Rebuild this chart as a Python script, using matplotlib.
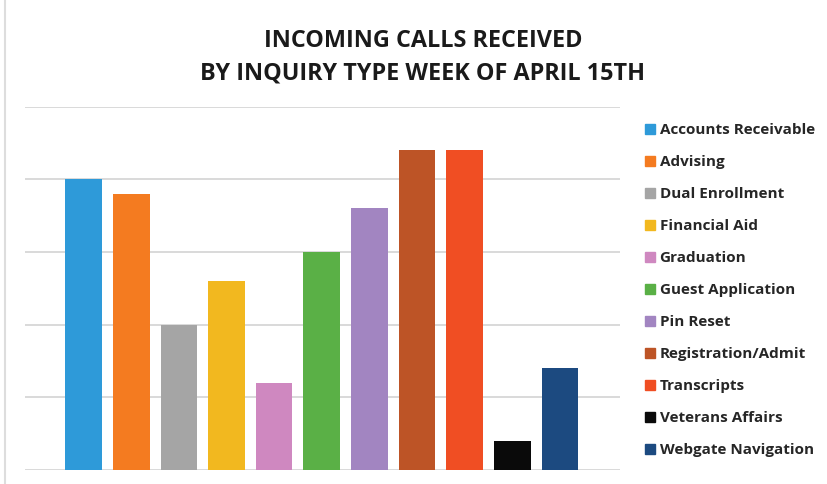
import matplotlib
matplotlib.use("Agg")
import matplotlib.pyplot as plt
from matplotlib.lines import Line2D

categories = ["Accounts Receivable", "Advising", "Dual Enrollment", "Financial Aid",
              "Graduation", "Guest Application", "Pin Reset", "Registration/Admit",
              "Transcripts", "Veterans Affairs", "Webgate Navigation"]
values = [40, 38, 20, 26, 12, 30, 36, 44, 44, 4, 14]
colors = ["#2e9ad9", "#f47b20", "#a5a5a5", "#f2b81f", "#cf88c0", "#5ab046",
          "#a285c1", "#bd5426", "#f04e23", "#0a0a0a", "#1c4a80"]
title = "INCOMING CALLS RECEIVED\nBY INQUIRY TYPE WEEK OF APRIL 15TH"

plt.rcParams['font.family'] = ['Open Sans', 'DejaVu Sans']

W, H = 828, 484
fig = plt.figure(figsize=(W / 100, H / 100), dpi=100)
ax = fig.add_axes([25 / W, (H - 470) / H, (620 - 25) / W, (470 - 106.7) / H])

x = list(range(len(categories)))
ax.bar(x, values, width=0.77, color=colors, zorder=3)
ax.set_xlim(-1.23, 11.26)
ax.set_ylim(0, 50)
ax.set_yticks([0, 10, 20, 30, 40, 50])
ax.yaxis.grid(True, color="#d9d9d9", linewidth=1.4, zorder=0)
ax.tick_params(left=False, bottom=False, labelleft=False, labelbottom=False)
for s in ax.spines.values():
    s.set_visible(False)

fig.text(423 / W, 1 - 57 / H, title, ha="center", va="center", fontsize=16.8,
         fontweight="bold", color="#1a1a1a", linespacing=1.45)

handles = [Line2D([], [], marker="s", linestyle="none", markersize=7,
                  markerfacecolor=c, markeredgecolor=c) for c in colors]
fig.legend(handles, categories, loc="upper left",
           bbox_to_anchor=(645 / W, 1 - 123 / H), frameon=False,
           handlelength=0.6, handletextpad=0.35, labelspacing=1.18,
           prop={"size": 11, "weight": "bold"}, labelcolor="#262626",
           borderpad=0, borderaxespad=0)

fig.add_artist(Line2D([5 / W, 5 / W], [0, 1], transform=fig.transFigure,
                      color="#dddddd", linewidth=1.5))

fig.savefig("out.png", dpi=100)
